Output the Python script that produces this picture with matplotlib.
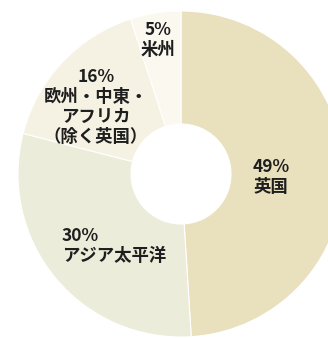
import matplotlib.pyplot as plt

plt.rcParams['font.family'] = ['Noto Sans CJK JP', 'DejaVu Sans']

# regional share of revenue (%)
regions = ['英国', 'アジア太平洋', '欧州・中東・\nアフリカ\n（除く英国）', '米州']
shares = [49, 30, 16, 5]
colors = ['#E9E0BE', '#ECECDB', '#F6F2E3', '#FAF8EF']

W, H = 328, 338
fig = plt.figure(figsize=(W / 100, H / 100), dpi=100)
ax = fig.add_axes([0, 0, 1, 1])

cx, cy = 181, 164
r_out, r_in = 163, 50

ax.pie(shares, colors=colors, startangle=90, counterclock=False,
       center=(cx, cy), radius=r_out, frame=True,
       wedgeprops=dict(width=r_out - r_in, edgecolor='white', linewidth=0.8))
ax.set_xlim(0, W)
ax.set_ylim(0, H)
ax.set_aspect('equal')
ax.axis('off')

# label anchors (x, y, ha) for each slice
label_pos = [(271, 161, 'center'), (62, 92, 'left'), (96, 231, 'center'), (158, 298, 'center')]
for name, v, (x, y, ha) in zip(regions, shares, label_pos):
    ax.text(x, y, f'{v}%\n{name}', ha=ha, va='center', multialignment=ha,
            fontsize=12.5, fontweight='bold', color='#1e1e1e', linespacing=1.15)

fig.savefig('out.png', dpi=100)
